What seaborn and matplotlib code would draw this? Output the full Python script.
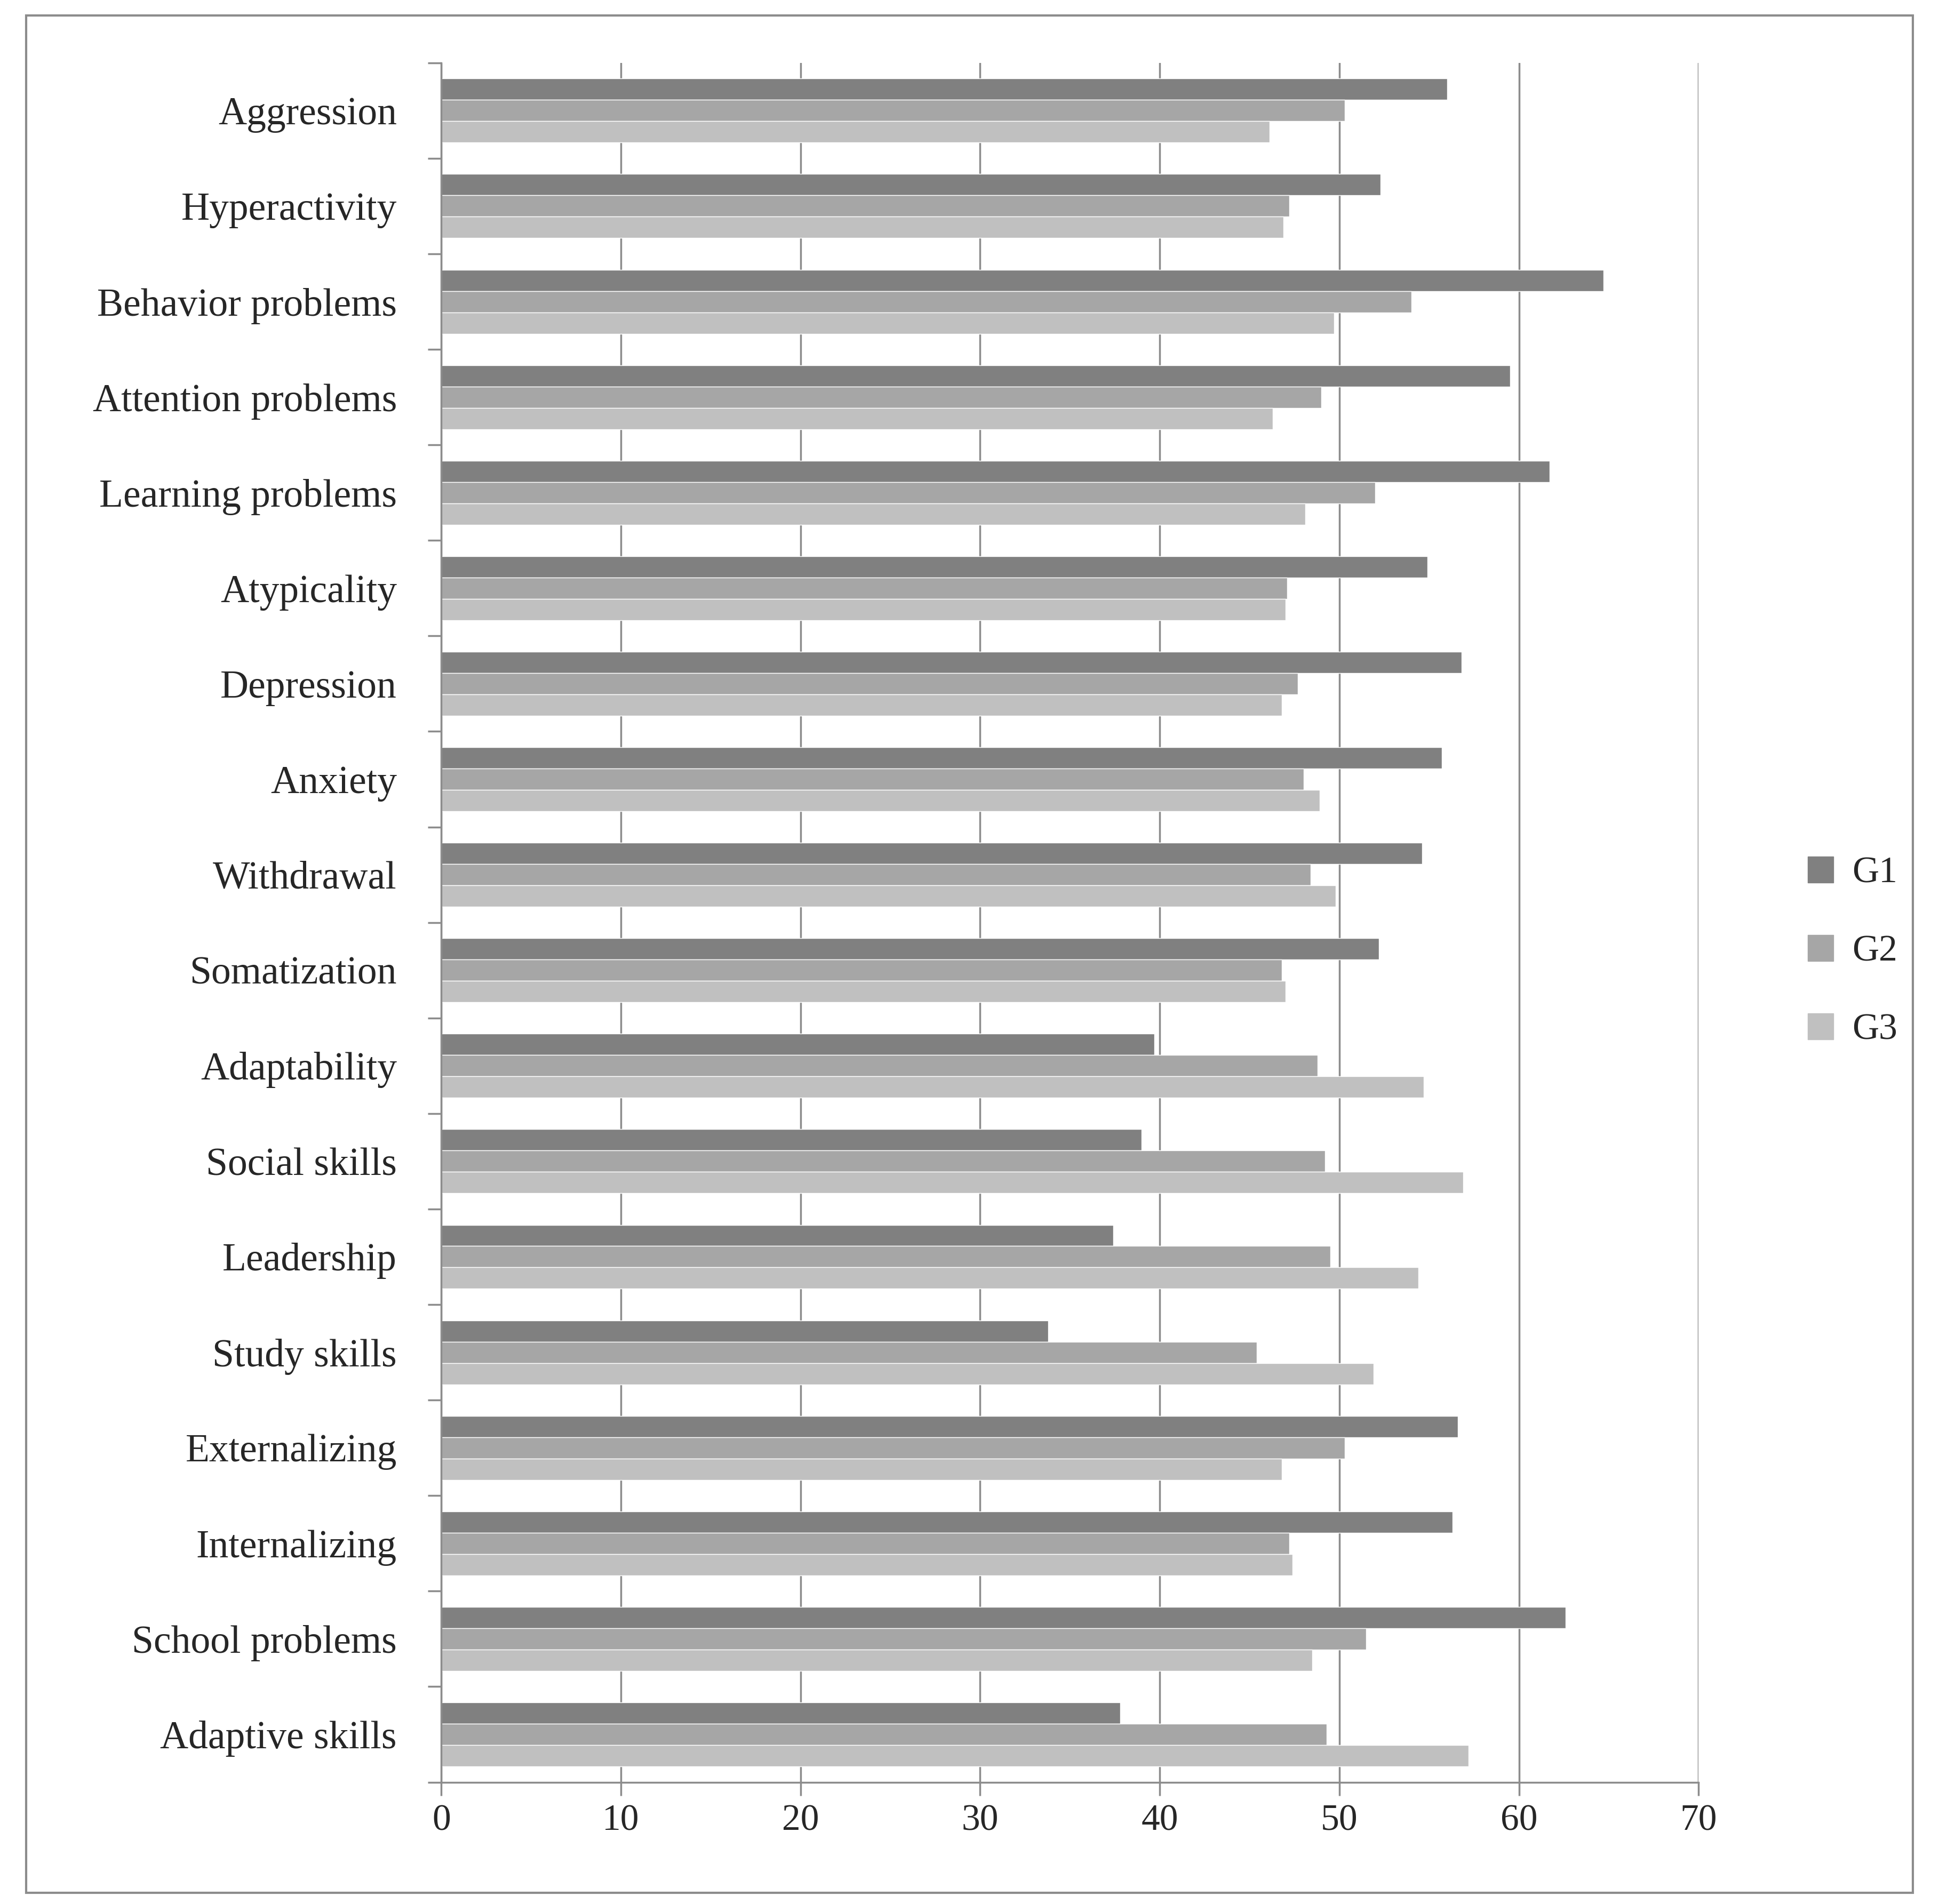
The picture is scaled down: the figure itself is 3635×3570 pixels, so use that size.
import pandas as pd
import matplotlib.pyplot as plt
import seaborn as sns
from matplotlib.patches import Rectangle

categories = ["Aggression", "Hyperactivity", "Behavior problems", "Attention problems",
              "Learning problems", "Atypicality", "Depression", "Anxiety", "Withdrawal",
              "Somatization", "Adaptability", "Social skills", "Leadership", "Study skills",
              "Externalizing", "Internalizing", "School problems", "Adaptive skills"]
g1 = [56.0, 52.3, 64.7, 59.5, 61.7, 54.9, 56.8, 55.7, 54.6, 52.2, 39.7, 39.0, 37.4, 33.8, 56.6, 56.3, 62.6, 37.8]
g2 = [50.3, 47.2, 54.0, 49.0, 52.0, 47.1, 47.7, 48.0, 48.4, 46.8, 48.8, 49.2, 49.5, 45.4, 50.3, 47.2, 51.5, 49.3]
g3 = [46.1, 46.9, 49.7, 46.3, 48.1, 47.0, 46.8, 48.9, 49.8, 47.0, 54.7, 56.9, 54.4, 51.9, 46.8, 47.4, 48.5, 57.2]
groups = ["G1", "G2", "G3"]
colors = ["#808080", "#a6a6a6", "#c0c0c0"]

df = pd.DataFrame({"cat": categories * 3,
                   "val": g1 + g2 + g3,
                   "grp": [g for g in groups for _ in categories]})

sns.set_style("white")
plt.rcParams['font.family'] = ['Liberation Serif', 'DejaVu Serif']

fig = plt.figure(figsize=(36.35, 35.7), dpi=100)
ax = fig.add_axes([0.2276, 0.064, 0.876 - 0.2276, 0.903])
sns.barplot(data=df, y="cat", x="val", hue="grp", palette=colors, width=0.67,
            orient="h", ax=ax, legend=False)

ax.set_xlim(0, 70)
ax.set_xticks(range(0, 71, 10))
ax.set_ylim(len(categories) - 0.5, -0.5)
ax.set_xlabel("")
ax.set_ylabel("")
ax.xaxis.grid(True, color="#8c8c8c", linewidth=2.5)
ax.set_axisbelow(True)
for s in ["top", "right"]:
    ax.spines[s].set_visible(False)
for s in ["left", "bottom"]:
    ax.spines[s].set_color("#8c8c8c")
    ax.spines[s].set_linewidth(2.5)
ax.tick_params(axis="x", labelsize=50, length=18, width=2.5, color="#8c8c8c", direction="out", pad=12, bottom=True)
ax.tick_params(axis="y", labelsize=53, length=0, pad=60)
ax.set_yticks([i - 0.5 for i in range(len(categories) + 1)], minor=True)
ax.tick_params(axis="y", which="minor", length=18, width=2.5, color="#8c8c8c", left=True)

handles = [Rectangle((0, 0), 1, 1, color=c) for c in colors]
fig.legend(handles, groups, loc="center left", bbox_to_anchor=(0.915, 0.5), frameon=False,
           fontsize=50, handlelength=0.7, handleheight=0.7, labelspacing=1.2, handletextpad=0.5)

fig.add_artist(Rectangle((0.0135, 0.006), 0.973, 0.986, transform=fig.transFigure,
                         fill=False, edgecolor="#8c8c8c", linewidth=3))
fig.savefig("out.png", dpi=100)
